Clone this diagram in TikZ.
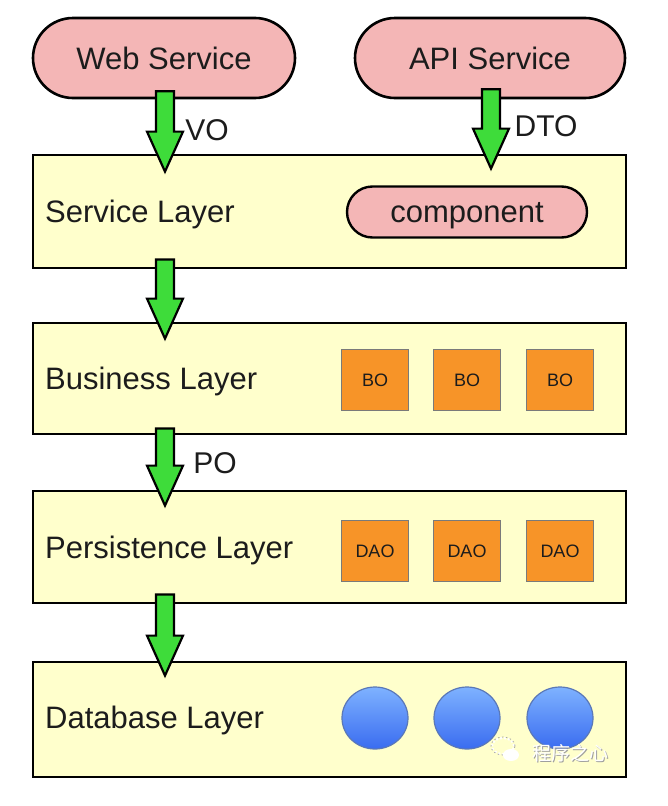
\documentclass[tikz,border=0pt]{standalone}
\usepackage{fontspec}
\setmainfont{Liberation Sans}
\newfontfamily\cjk{Noto Sans CJK SC}
\usetikzlibrary{shapes.misc,shapes.geometric,calc,shadings}
\definecolor{pillpink}{HTML}{F4B6B6}
\definecolor{layeryellow}{HTML}{FFFFCC}
\definecolor{arrowgreen}{HTML}{3EDC3A}
\definecolor{boxorange}{HTML}{F79428}
\definecolor{boxgray}{HTML}{7A7A7A}
\definecolor{txt}{HTML}{1C1C1C}
\definecolor{dbtop}{HTML}{7EB2FF}
\definecolor{dbbot}{HTML}{3A6CF0}
\definecolor{dbline}{HTML}{5A78B8}
\tikzset{
  pill/.style={rounded rectangle, draw=black, line width=2.6pt, fill=pillpink,
    text=txt, font=\fontsize{31}{36}\selectfont, inner sep=0pt},
  layer/.style={rectangle, draw=black, line width=2.8pt, fill=layeryellow,
    minimum width=593pt, inner sep=0pt},
  layerlabel/.style={anchor=west, text=txt, font=\fontsize{31}{36}\selectfont, inner sep=0pt},
  flowlabel/.style={text=txt, font=\fontsize{30}{36}\selectfont, inner sep=0pt},
  obj/.style={rectangle, draw=boxgray, line width=1.5pt, fill=boxorange,
    minimum width=67pt, minimum height=61pt, inner sep=0pt, text=txt,
    font=\fontsize{18}{20}\selectfont},
  dbdisk/.style={ellipse, draw=dbline, line width=1.2pt, top color=dbtop,
    bottom color=dbbot, minimum width=66pt, minimum height=62pt, inner sep=0pt},
  fatarr/.style={draw=black, line width=2.2pt, fill=arrowgreen, line join=miter},
}
% #1 = start point (top of shaft), #2 = tip
\newcommand\fatarrow[2]{%
  \draw[fatarr] let \p1=(#1), \p2=(#2), \n1={\y2+40pt} in
    (\x1-9pt,\y1) -- (\x1-9pt,\n1) -- (\x1-18pt,\n1) -- (\x1,\y2)
    -- (\x1+18pt,\n1) -- (\x1+9pt,\n1) -- (\x1+9pt,\y1) -- cycle;}
\begin{document}
\begin{tikzpicture}[x=1pt,y=-1pt]
\useasboundingbox[fill=white] (0,0) rectangle (668,806);

% layers
\node[layer, minimum height=113pt] (svc) at (329.5,211.5) {};
\node[layer, minimum height=111pt] (bus) at (329.5,378.5) {};
\node[layer, minimum height=112pt] (per) at (329.5,547) {};
\node[layer, minimum height=115pt] (db)  at (329.5,719.5) {};

\node[layerlabel] (svcl) at (45,214) {Service Layer};
\node[layerlabel] (busl) at (45,381) {Business Layer};
\node[layerlabel] (perl) at (45,550) {Persistence Layer};
\node[layerlabel] (dbl)  at (45,720) {Database Layer};

% services
\node[pill, minimum width=262pt, minimum height=80pt] (web) at (164,58) {Web Service};
\node[pill, minimum width=270pt, minimum height=80pt] (api) at (490,58) {API Service};
\node[pill, line width=2.4pt, minimum width=240pt, minimum height=51pt, text depth=0pt] (comp) at (467,212) {component};

% business objects
\node[obj] (bo1) at (375,380) {BO};
\node[obj] (bo2) at (467,380) {BO};
\node[obj] (bo3) at (560,380) {BO};
\node[obj] (dao1) at (375,551) {DAO};
\node[obj] (dao2) at (467,551) {DAO};
\node[obj] (dao3) at (560,551) {DAO};

% database disks
\node[dbdisk] (d1) at (375,718) {};
\node[dbdisk] (d2) at (467,718) {};
\node[dbdisk] (d3) at (560,718) {};

% arrows
\coordinate (a1s) at ($(web.south)+(1,-8)$);
\coordinate (a1t) at ($(a1s |- svc.north)+(0,18)$);
\fatarrow{a1s}{a1t}
\coordinate (a2s) at ($(api.south)+(1,-10)$);
\coordinate (a2t) at ($(a2s |- svc.north)+(0,15)$);
\fatarrow{a2s}{a2t}
\coordinate (a3s) at ($(a1s |- svc.south)+(0,-10)$);
\coordinate (a3t) at ($(a1s |- bus.north)+(0,17)$);
\fatarrow{a3s}{a3t}
\coordinate (a4s) at ($(a1s |- bus.south)+(0,-7)$);
\coordinate (a4t) at ($(a1s |- per.north)+(0,16)$);
\fatarrow{a4s}{a4t}
\coordinate (a5s) at ($(a1s |- per.south)+(0,-10)$);
\coordinate (a5t) at ($(a1s |- db.north)+(0,15)$);
\fatarrow{a5s}{a5t}

\node[flowlabel] (vo)  at (207,130) {VO};
\node[flowlabel] (dto) at (546,126) {DTO};
\node[flowlabel] (po)  at (215,463) {PO};

% watermark
\draw[white, line width=2pt, dash pattern=on 2pt off 2pt] (503,746) ellipse (11pt and 8pt);
\draw[gray!70, line width=0.8pt, dash pattern=on 1.5pt off 2.5pt] (503,746) ellipse (12pt and 9pt);
\fill[white] (511,755) ellipse (8pt and 6pt);
\node[text=gray!75, font=\cjk\fontsize{19}{19}\selectfont, inner sep=0pt] (wms) at (571.8,754) {程序之心};
\node[text=white, font=\cjk\fontsize{19}{19}\selectfont, inner sep=0pt] (wm) at (570.5,753) {程序之心};
\end{tikzpicture}
\end{document}
